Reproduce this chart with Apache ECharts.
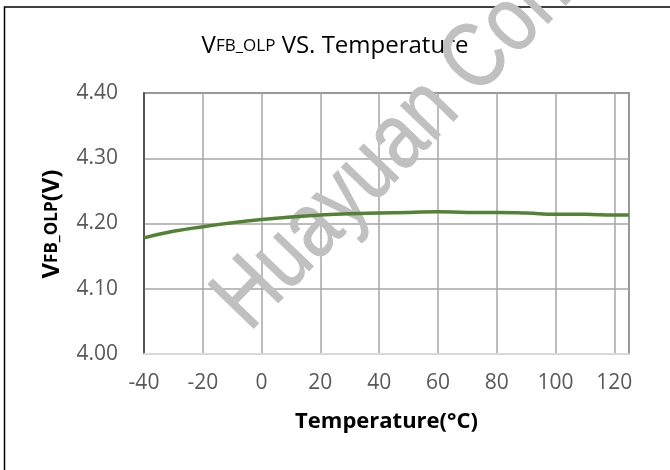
<!DOCTYPE html>
<html>
<head>
<meta charset="utf-8">
<script src="https://cdn.jsdelivr.net/npm/echarts@6/dist/echarts.min.js"></script>
<style>
  html, body { margin: 0; padding: 0; background: #fff; }
  #grafica { width: 670px; height: 470px; }
</style>
</head>
<body>
<div id="grafica"></div>
<script>
// datos
let temperaturas = [-40, -30, -20, -10, 0, 10, 20, 30, 40, 50, 60, 70, 80, 90, 100, 110, 120, 125];
let vfbOlp = [4.178, 4.188, 4.195, 4.201, 4.206, 4.210, 4.213, 4.215, 4.216, 4.217, 4.218, 4.217, 4.217, 4.216, 4.214, 4.214, 4.213, 4.213];
let ejeX = { min: -40, max: 125, interval: 20 };
let ejeY = { min: 4.0, max: 4.4, interval: 0.1 };

let fuente = "'Open Sans', 'Noto Sans', sans-serif";

let chartDom = document.getElementById('grafica');
let myChart = echarts.init(chartDom);

let puntos = temperaturas.map((t, i) => [t, vfbOlp[i]]);

let option = {
    animation: false,
    backgroundColor: '#ffffff',
    title: {
        left: 'center',
        top: 29,
        z: 0,
        text: '{a|V}{b|FB_OLP}{a| VS. Temperature}',
        textStyle: {
            rich: {
                a: { fontFamily: fuente, fontSize: 24, fontWeight: 'normal', color: '#000000' },
                b: { fontFamily: fuente, fontSize: 17, fontWeight: 'normal', color: '#000000' }
            }
        }
    },
    grid: {
        left: 144,
        right: 41,
        top: 93,
        bottom: 116,
        show: true,
        borderColor: '#404040',
        borderWidth: 1.5,
        backgroundColor: 'transparent'
    },
    xAxis: {
        type: 'value',
        min: ejeX.min,
        max: ejeX.max,
        interval: ejeX.interval,
        name: 'Temperature(°C)',
        nameLocation: 'middle',
        nameGap: 57,
        nameTextStyle: { fontFamily: fuente, fontSize: 22, fontWeight: 'bold', color: '#000000' },
        axisLine: { show: true, onZero: false, lineStyle: { color: '#d9d9d9', width: 2 } },
        axisTick: { show: false },
        axisLabel: {
            showMaxLabel: false,
            margin: 19,
            fontFamily: fuente,
            fontSize: 21,
            color: '#595959',
            formatter: v => (v === ejeX.max ? '' : String(v))
        },
        splitLine: { show: true, lineStyle: { color: '#a6a6a6', width: 1.5 } }
    },
    yAxis: {
        type: 'value',
        min: ejeY.min,
        max: ejeY.max,
        interval: ejeY.interval,
        axisLine: { show: true, onZero: false, lineStyle: { color: '#404040', width: 1.5 } },
        axisTick: { show: false },
        axisLabel: {
            margin: 26,
            fontFamily: fuente,
            fontSize: 21,
            color: '#595959',
            formatter: v => v.toFixed(2)
        },
        splitLine: { show: true, lineStyle: { color: '#a6a6a6', width: 1.5 } }
    },
    graphic: [
        {
            // marco exterior
            type: 'rect',
            z: 0,
            shape: { x: 4.5, y: 7, width: 700, height: 500 },
            style: { fill: 'none', stroke: '#000000', lineWidth: 1.5 }
        },
        {
            // titulo del eje Y
            type: 'text',
            z: 3,
            x: 52,
            y: 224,
            rotation: Math.PI / 2,
            style: {
                text: '{a|V}{b|FB_OLP}{a|(V)}',
                rich: {
                    a: { fontFamily: fuente, fontSize: 24, fontWeight: 'bold', fill: '#000000' },
                    b: { fontFamily: fuente, fontSize: 17, fontWeight: 'bold', fill: '#000000' }
                },
                textAlign: 'center',
                textVerticalAlign: 'middle'
            }
        },
        {
            // marca de agua
            type: 'text',
            z: 1,
            x: 231,
            y: 315,
            rotation: 46 * Math.PI / 180,
            scaleX: 0.83,
            style: {
                text: 'Huayuan Confidential',
                font: '92px "Liberation Sans Narrow", "Liberation Sans", sans-serif',
                fill: '#c0c0c0',
                stroke: '#c0c0c0',
                lineWidth: 1,
                textAlign: 'left',
                textVerticalAlign: 'middle'
            }
        }
    ],
    series: [
        {
            name: 'VFB_OLP',
            type: 'line',
            smooth: true,
            symbol: 'none',
            z: 5,
            lineStyle: { color: '#548235', width: 3.5 },
            data: puntos
        }
    ]
};

option && myChart.setOption(option);
</script>
</body>
</html>
